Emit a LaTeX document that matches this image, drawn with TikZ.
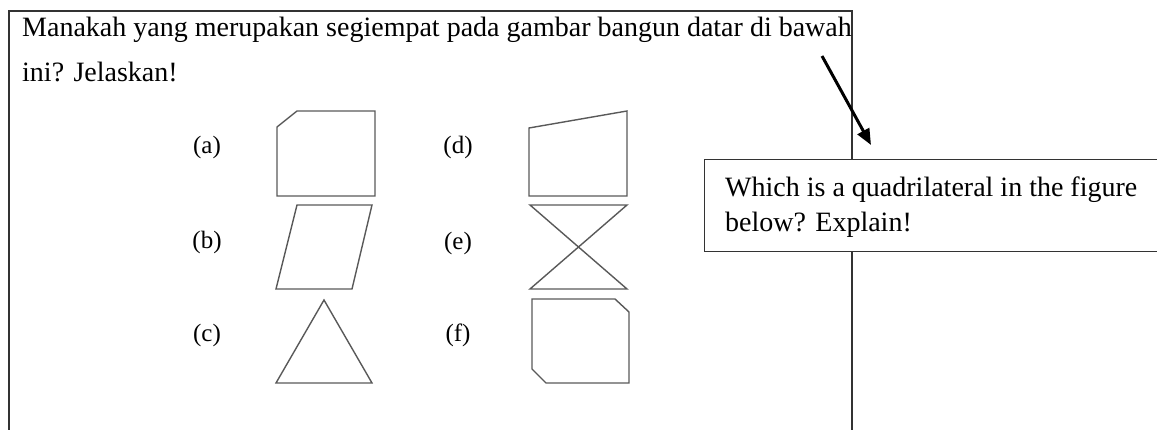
\documentclass[tikz,border=0pt]{standalone}
\usepackage{fontspec}
\setmainfont{Liberation Serif}
\usetikzlibrary{arrows.meta}
\begin{document}
\begin{tikzpicture}[x=1pt,y=-1pt,
  txt/.style={inner sep=0pt,font=\fontsize{28}{32}\selectfont,anchor=base west},
  lbl/.style={inner sep=0pt,font=\fontsize{25}{30}\selectfont},
  shp/.style={draw=black!65,line width=1.4pt,line join=miter},
  frame/.style={draw=black!80,line width=1.2pt}]
\useasboundingbox (0,0) rectangle (1157,430);
% outer frame
\draw[frame] (9,430) -- (9,11) -- (852,11) -- (852,430);
% question text
\node[txt] (q1) at (22,37) {Manakah yang merupakan segiempat pada gambar bangun datar di bawah};
\node[txt] (q2) at (22,82) {ini? Jelaskan!};
% labels
\node[lbl] (la) at (207,147) {(a)};
\node[lbl] (lb) at (207,242) {(b)};
\node[lbl] (lc) at (207,335) {(c)};
\node[lbl] (ld) at (458,147) {(d)};
\node[lbl] (le) at (458,243) {(e)};
\node[lbl] (lf) at (458,335) {(f)};
% shapes
\draw[shp] (297,111) -- (375,111) -- (375,196) -- (277,196) -- (277,127) -- cycle;
\draw[shp] (297,205) -- (372,205) -- (352,289) -- (276,289) -- cycle;
\draw[shp] (324,300) -- (372,383) -- (276,383) -- cycle;
\draw[shp] (529,128) -- (627,111) -- (627,196) -- (529,196) -- cycle;
\draw[shp] (530,205) -- (627,205) -- (530,289) -- (627,289) -- cycle;
\draw[shp] (532,299) -- (615,299) -- (629,312) -- (629,383) -- (546,383) -- (532,369) -- cycle;
% callout
\node[draw=black!80,line width=1.2pt,fill=white,minimum width=470pt,minimum height=92pt,anchor=north west,inner sep=0pt] (cb) at (704,159) {};
\node[txt] (c1) at (725,197) {Which is a quadrilateral in the figure};
\node[txt] (c2) at (725,232) {below? Explain!};
% arrow
\coordinate (as) at (822,56);
\coordinate (ae) at (871,145);
\draw[line width=3pt,-{Triangle[length=16pt,width=13pt]}] (as) -- (ae);
\end{tikzpicture}
\end{document}
